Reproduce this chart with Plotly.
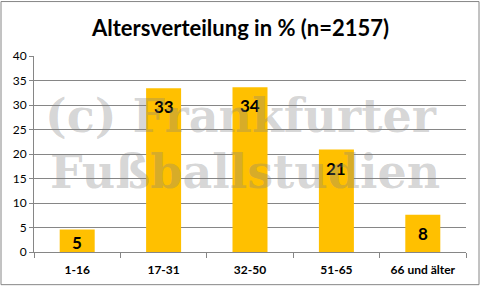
import plotly.graph_objects as go

categories = ["1-16", "17-31", "32-50", "51-65", "66 und älter"]
values = [4.6, 33.4, 33.6, 20.9, 7.6]
y_ticks = [0, 5, 10, 15, 20, 25, 30, 35, 40]

W, H = 481, 289
L, R, T, B = 34, 15, 56, 35
pw, ph = W - L - R, H - T - B

def px_x(p):
    return (p - L) / pw

def px_y(p):
    return (H - B - p) / ph

fig = go.Figure()
fig.add_trace(go.Bar(
    x=categories, y=values,
    marker=dict(color="#FFC000", line=dict(width=0)),
    hoverinfo="skip",
))

annotations = []
for c, v in zip(categories, values):
    annotations.append(dict(
        x=c, y=max(v - 3.8, 2.0), xref="x", yref="y",
        text=str(int(v + 0.5)), showarrow=False,
        font=dict(family="Lato", size=17, color="#000000", weight="bold"),
        xanchor="center", yanchor="middle",
    ))

# watermark
wm_font = dict(family="DejaVu Serif", size=46, color="rgba(128,128,128,0.33)", weight="bold")
annotations.append(dict(
    x=px_x(241), y=px_y(117), xref="paper", yref="paper",
    text="(c) Frankfurter", showarrow=False, font=wm_font,
    xanchor="center", yanchor="middle",
))
annotations.append(dict(
    x=px_x(245), y=px_y(173), xref="paper", yref="paper",
    text="Fußballstudien", showarrow=False, font=wm_font,
    xanchor="center", yanchor="middle",
))

fig.update_layout(
    width=W, height=H,
    margin=dict(l=L, r=R, t=T, b=B, pad=0),
    paper_bgcolor="white", plot_bgcolor="white",
    showlegend=False,
    bargap=0.595,
    title=dict(
        text="Altersverteilung in % (n=2157)",
        x=0.5, xanchor="center", y=1 - 28 / H, yanchor="middle",
        font=dict(family="Lato", size=22, color="#000000", weight="bold"),
    ),
    xaxis=dict(
        type="category",
        showline=True, linecolor="#868686", linewidth=1,
        ticks="outside", ticklen=5, tickcolor="#868686", tickson="boundaries",
        ticklabelstandoff=7,
        tickfont=dict(family="Lato", size=12, color="#000000", weight="bold"),
        showgrid=False,
    ),
    yaxis=dict(
        range=[0, 40], tickvals=y_ticks,
        showline=True, linecolor="#868686", linewidth=1,
        ticks="outside", ticklen=4, tickcolor="#868686",
        showgrid=True, gridcolor="#868686", gridwidth=1,
        zeroline=False,
        tickfont=dict(family="Lato", size=12, color="#000000"),
    ),
    annotations=annotations,
    shapes=[dict(
        type="rect", xref="paper", yref="paper",
        x0=px_x(1), x1=px_x(479), y0=px_y(287), y1=px_y(1),
        line=dict(color="#868686", width=1), fillcolor="rgba(0,0,0,0)",
        layer="below",
    )],
)

fig.write_html("out.html")
